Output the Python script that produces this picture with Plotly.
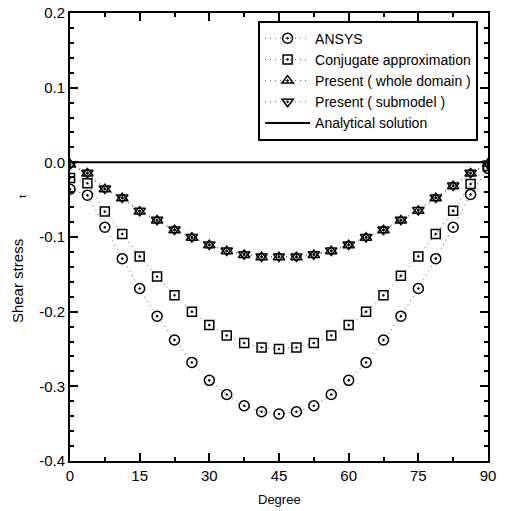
import plotly.graph_objects as go

degree = [0, 3.75, 7.5, 11.25, 15, 18.75, 22.5, 26.25, 30, 33.75, 37.5, 41.25, 45,
          48.75, 52.5, 56.25, 60, 63.75, 67.5, 71.25, 75, 78.75, 82.5, 86.25, 90]

ansys = [-0.036, -0.044, -0.087, -0.129, -0.169, -0.206, -0.238, -0.268, -0.292, -0.311,
         -0.326, -0.334, -0.337, -0.334, -0.326, -0.311, -0.292, -0.268, -0.238, -0.206,
         -0.169, -0.129, -0.087, -0.043, -0.008]

conjugate = [-0.021, -0.028, -0.066, -0.096, -0.126, -0.153, -0.178, -0.200, -0.218, -0.232,
             -0.242, -0.248, -0.250, -0.248, -0.242, -0.232, -0.218, -0.200, -0.178, -0.152,
             -0.126, -0.096, -0.065, -0.029, -0.005]

whole_domain = [-0.003, -0.015, -0.036, -0.048, -0.066, -0.078, -0.091, -0.101, -0.111, -0.119,
                -0.124, -0.127, -0.127, -0.127, -0.124, -0.119, -0.111, -0.101, -0.091, -0.078,
                -0.065, -0.048, -0.032, -0.015, -0.002]

submodel = [-0.003, -0.014, -0.035, -0.047, -0.065, -0.077, -0.090, -0.100, -0.110, -0.118,
            -0.123, -0.126, -0.126, -0.126, -0.123, -0.118, -0.110, -0.100, -0.090, -0.077,
            -0.064, -0.047, -0.031, -0.014, -0.002]

analytical_x = [0, 90]
analytical_y = [0.0, 0.0]

FONT = "Liberation Sans, Arial, sans-serif"
dotline = dict(color="#555555", width=1, dash="1px,4px")

fig = go.Figure()
fig.add_trace(go.Scatter(x=degree, y=ansys, mode="lines+markers", name="ANSYS",
                         line=dotline,
                         marker=dict(symbol="circle-open-dot", size=10, color="black",
                                     line=dict(width=1.5, color="black"))))
fig.add_trace(go.Scatter(x=degree, y=conjugate, mode="lines+markers", name="Conjugate approximation",
                         line=dotline,
                         marker=dict(symbol="square-open-dot", size=9, color="black",
                                     line=dict(width=1.5, color="black"))))
fig.add_trace(go.Scatter(x=degree, y=whole_domain, mode="lines+markers", name="Present ( whole domain )",
                         line=dotline,
                         marker=dict(symbol="triangle-up-open-dot", size=10, color="black",
                                     line=dict(width=1.5, color="black"))))
fig.add_trace(go.Scatter(x=degree, y=submodel, mode="lines+markers", name="Present ( submodel )",
                         line=dotline,
                         marker=dict(symbol="triangle-down-open-dot", size=10, color="black",
                                     line=dict(width=1.5, color="black"))))
fig.add_trace(go.Scatter(x=analytical_x, y=analytical_y, mode="lines", name="Analytical solution",
                         line=dict(color="black", width=2)))

axis_common = dict(showgrid=False, zeroline=False, showline=True, linecolor="black", linewidth=2,
                   mirror="ticks", ticks="inside", tickcolor="black", tickwidth=1.5,
                   automargin=False,
                   tickfont=dict(family=FONT, size=15, color="black"))

fig.update_xaxes(range=[0, 90], tickvals=[0, 15, 30, 45, 60, 75, 90], ticklen=8,
                 minor=dict(dtick=7.5, tick0=0, ticks="inside", ticklen=4, tickcolor="black", tickwidth=1.5),
                 **axis_common)
fig.update_yaxes(range=[-0.4, 0.2], tickvals=[-0.4, -0.3, -0.2, -0.1, 0.0, 0.1, 0.2],
                 ticktext=["-0.4", "-0.3", "-0.2", "-0.1", "0.0", "0.1", "0.2"], ticklen=8,
                 minor=dict(dtick=0.02, tick0=0, ticks="inside", ticklen=4, tickcolor="black", tickwidth=1.5),
                 **axis_common)

fig.update_layout(
    width=505, height=511,
    margin=dict(l=70, r=17, t=13, b=50),
    plot_bgcolor="white", paper_bgcolor="white",
    font=dict(family=FONT, color="black"),
    showlegend=True,
    legend=dict(x=0.45, y=0.983, xanchor="left", yanchor="top",
                bgcolor="white", bordercolor="black", borderwidth=2,
                font=dict(family=FONT, size=14, color="black"),
                itemwidth=45, tracegroupgap=0),
    annotations=[
        dict(text="Degree", xref="paper", yref="paper", x=0.5, y=-0.087, showarrow=False,
             font=dict(family=FONT, size=13), xanchor="center", yanchor="middle"),
        dict(text="Shear stress", xref="paper", yref="paper", x=-0.124, y=0.402, showarrow=False,
             textangle=-90, font=dict(family=FONT, size=15), xanchor="center", yanchor="middle"),
        dict(text="τ", xref="paper", yref="paper", x=-0.113, y=0.59, showarrow=False,
             textangle=-90, font=dict(family=FONT, size=10), xanchor="center", yanchor="middle"),
    ],
)

fig.write_html("out.html")
